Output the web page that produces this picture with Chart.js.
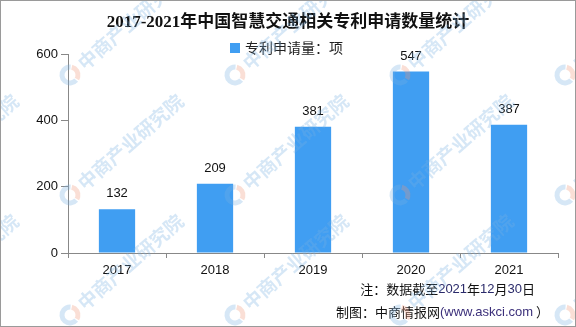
<!DOCTYPE html>
<html>
<head>
<meta charset="utf-8">
<script src="https://cdn.jsdelivr.net/npm/chart.js@4"></script>
<style>
  html,body{margin:0;padding:0;background:#fff;}
  #wrap{width:576px;height:327px;position:relative;}
</style>
</head>
<body>
<div id="wrap"><canvas id="chart" width="576" height="327"></canvas></div>
<script>
/* patent application bar chart */
const YEARS = ['2017', '2018', '2019', '2020', '2021'];
const COUNTS = [132, 209, 381, 547, 387];
const Y_TICKS = [0, 200, 400, 600];
const SERIES_NAME = '专利申请量：项';
const TITLE = '2017-2021年中国智慧交通相关专利申请数量统计';
const MARK = '中商产业研究院';

const BAR_COLOR = '#409ef2';
const AXIS_COLOR = '#888888';
const CJK = '"Noto Sans CJK SC", sans-serif';
const NUM = '"Liberation Sans", Arial, sans-serif';

// footnote pieces: [text, colour, font]
const NOTE1 = [['注：数据截至', '#111', CJK], ['2021', '#2a2a6a', NUM], ['年', '#111', CJK],
               ['12', '#2a2a6a', NUM], ['月', '#111', CJK], ['30', '#2a2a6a', NUM], ['日', '#111', CJK]];
const NOTE2 = [['制图：中商情报网', '#111', CJK], ['(www.askci.com', '#3b2f7a', NUM], [' ）', '#111', CJK]];

function drawPieces(ctx, pieces, right, y){
  ctx.textAlign = 'left';
  const widths = pieces.map(([t, , f]) => { ctx.font = '13px ' + f; return ctx.measureText(t).width; });
  let x = right - widths.reduce((a, b) => a + b, 0);
  pieces.forEach(([t, col, f], i) => {
    ctx.font = '13px ' + f;
    ctx.fillStyle = col;
    ctx.fillText(t, x, y);
    x += widths[i];
  });
}

// heading and legend drawn above the plot
const header = {
  id: 'header',
  beforeDraw(c){
    const ctx = c.ctx;
    ctx.save();
    ctx.fillStyle = '#111';
    ctx.textBaseline = 'middle';
    ctx.textAlign = 'center';
    ctx.font = 'bold 17px "Liberation Serif", "Noto Sans CJK SC", serif';
    ctx.fillText(TITLE, 288, 23);
    ctx.fillStyle = BAR_COLOR;
    ctx.fillRect(230, 43, 10, 10);
    ctx.fillStyle = '#222';
    ctx.textAlign = 'left';
    ctx.font = '14px ' + CJK;
    ctx.fillText(SERIES_NAME, 245, 48);
    ctx.restore();
  }
};

// value labels, footnotes, watermark and frame
const extras = {
  id: 'extras',
  afterDatasetsDraw(c){
    const ctx = c.ctx;
    const meta = c.getDatasetMeta(0);
    ctx.save();
    ctx.font = '13px ' + NUM;
    ctx.fillStyle = '#111';
    ctx.textAlign = 'center';
    ctx.textBaseline = 'bottom';
    meta.data.forEach((bar, i) => {
      ctx.fillText(String(COUNTS[i]), bar.x, bar.y - 9);
    });
    ctx.textBaseline = 'middle';
    drawPieces(ctx, NOTE1, 535, 289);
    drawPieces(ctx, NOTE2, 549, 312);
    ctx.restore();
  },
  afterDraw(c){
    const ctx = c.ctx;
    ctx.save();
    [-95, 70, 235, 400, 565].forEach(x => {
      [75, 195, 315].forEach(y => {
        ctx.save();
        ctx.translate(x, y);
        ctx.rotate(-0.72);
        ctx.lineWidth = 5;
        ctx.beginPath();
        ctx.arc(0, 0, 8, Math.PI * 0.45, Math.PI * 1.75);
        ctx.strokeStyle = 'rgba(120,175,225,0.3)';
        ctx.stroke();
        ctx.beginPath();
        ctx.arc(0, 0, 8, -Math.PI * 0.2, Math.PI * 0.4);
        ctx.strokeStyle = 'rgba(240,150,120,0.3)';
        ctx.stroke();
        ctx.font = 'bold 19px ' + CJK;
        ctx.fillStyle = 'rgba(120,175,225,0.3)';
        ctx.textBaseline = 'middle';
        ctx.fillText(MARK, 14, 0);
        ctx.restore();
      });
    });
    ctx.strokeStyle = '#9a9a9a';
    ctx.lineWidth = 1;
    ctx.strokeRect(0.5, 0.5, c.width - 1, c.height - 1);
    ctx.restore();
  }
};

new Chart(document.getElementById('chart'), {
  type: 'bar',
  data: {
    labels: YEARS,
    datasets: [{
      label: SERIES_NAME,
      data: COUNTS,
      backgroundColor: BAR_COLOR,
      barPercentage: 0.74,
      categoryPercentage: 0.5
    }]
  },
  options: {
    responsive: false,
    animation: false,
    devicePixelRatio: 1,
    layout: { padding: { top: 54, left: 0, right: 18, bottom: 0 } },
    plugins: {
      title: { display: false },
      legend: { display: false },
      tooltip: { enabled: false }
    },
    scales: {
      x: {
        grid: { display: true, drawOnChartArea: false, offset: true, color: AXIS_COLOR, tickLength: 5 },
        border: { color: AXIS_COLOR },
        ticks: { color: '#111', font: { family: NUM, size: 13 }, padding: 5 },
        afterFit: s => { s.height = 74; }
      },
      y: {
        min: 0, max: 600,
        afterBuildTicks: s => { s.ticks = Y_TICKS.map(v => ({ value: v })); },
        grid: { display: true, drawOnChartArea: false, color: AXIS_COLOR, tickLength: 7 },
        border: { color: AXIS_COLOR },
        ticks: { color: '#111', font: { family: NUM, size: 13 }, padding: 3 },
        afterFit: s => { s.width = 68; }
      }
    }
  },
  plugins: [header, extras]
});
</script>
</body>
</html>
